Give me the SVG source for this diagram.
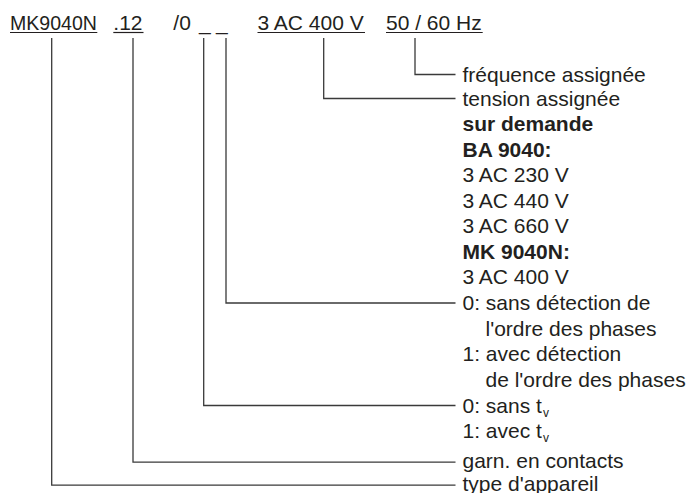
<svg xmlns="http://www.w3.org/2000/svg" width="689" height="493" viewBox="0 0 689 493">
<style>
text{font-family:"Liberation Sans",Arial,Helvetica,sans-serif;font-size:21px;fill:#231f20}
.b{font-weight:bold}
.sub{font-size:12px}
.ul{stroke:#231f20;stroke-width:1.2;fill:none}
.c{stroke:#3a3a3a;stroke-width:1.3;fill:none}
</style>
<rect width="689" height="493" fill="#fff"/>
<g id="code">
  <g id="h-type"><text x="10" y="29.5" textLength="87" lengthAdjust="spacingAndGlyphs">MK9040N</text><line class="ul" x1="10" y1="32.5" x2="97.3" y2="32.5"/></g>
  <g id="h-contacts"><text x="113.3" y="29.5">.12</text><line class="ul" x1="113.3" y1="32.5" x2="143.5" y2="32.5"/></g>
  <g id="h-options"><text x="173.3" y="29.5">/0<tspan x="199">_</tspan><tspan x="216">_</tspan></text></g>
  <g id="h-voltage"><text x="257.5" y="29.5">3 AC 400 V</text><line class="ul" x1="257.5" y1="32.5" x2="365" y2="32.5"/></g>
  <g id="h-freq"><text x="386" y="29.5">50 / 60 Hz</text><line class="ul" x1="386" y1="32.5" x2="482.7" y2="32.5"/></g>
</g>
<g id="connectors">
  <path class="c" d="M415,38V74.5H455.5"/>
  <path class="c" d="M323.7,38V98.5H455.5"/>
  <path class="c" d="M226,38V303H455.5"/>
  <path class="c" d="M203.7,38V405.5H455.5"/>
  <path class="c" d="M133,38V462.2H455.5"/>
  <path class="c" d="M51.7,38V485.2H455.5"/>
</g>
<g id="n-freq"><text x="462.5" y="81.5">fréquence assignée</text></g>
<g id="n-voltage">
  <text x="462.5" y="105.5">tension assignée</text>
  <text class="b" x="462.5" y="131">sur demande</text>
  <text class="b" x="462.5" y="156.5">BA 9040:</text>
  <text x="462.5" y="182">3 AC 230 V</text>
  <text x="462.5" y="207.5">3 AC 440 V</text>
  <text x="462.5" y="233">3 AC 660 V</text>
  <text class="b" x="462.5" y="258.5">MK 9040N:</text>
  <text x="462.5" y="284">3 AC 400 V</text>
</g>
<g id="n-phase">
  <text x="462.5" y="310">0: sans détection de</text>
  <text x="485.5" y="335.5">l'ordre des phases</text>
  <text x="462.5" y="361">1: avec détection</text>
  <text x="485.5" y="386.5">de l'ordre des phases</text>
</g>
<g id="n-tv">
  <text x="462.5" y="412.5">0: sans t<tspan class="sub" dx="1" dy="4">v</tspan></text>
  <text x="462.5" y="437.5">1: avec t<tspan class="sub" dx="1" dy="4">v</tspan></text>
</g>
<g id="n-contacts"><text x="462.5" y="468">garn. en contacts</text></g>
<g id="n-type"><text x="462.5" y="490.5">type d'appareil</text></g>
</svg>
